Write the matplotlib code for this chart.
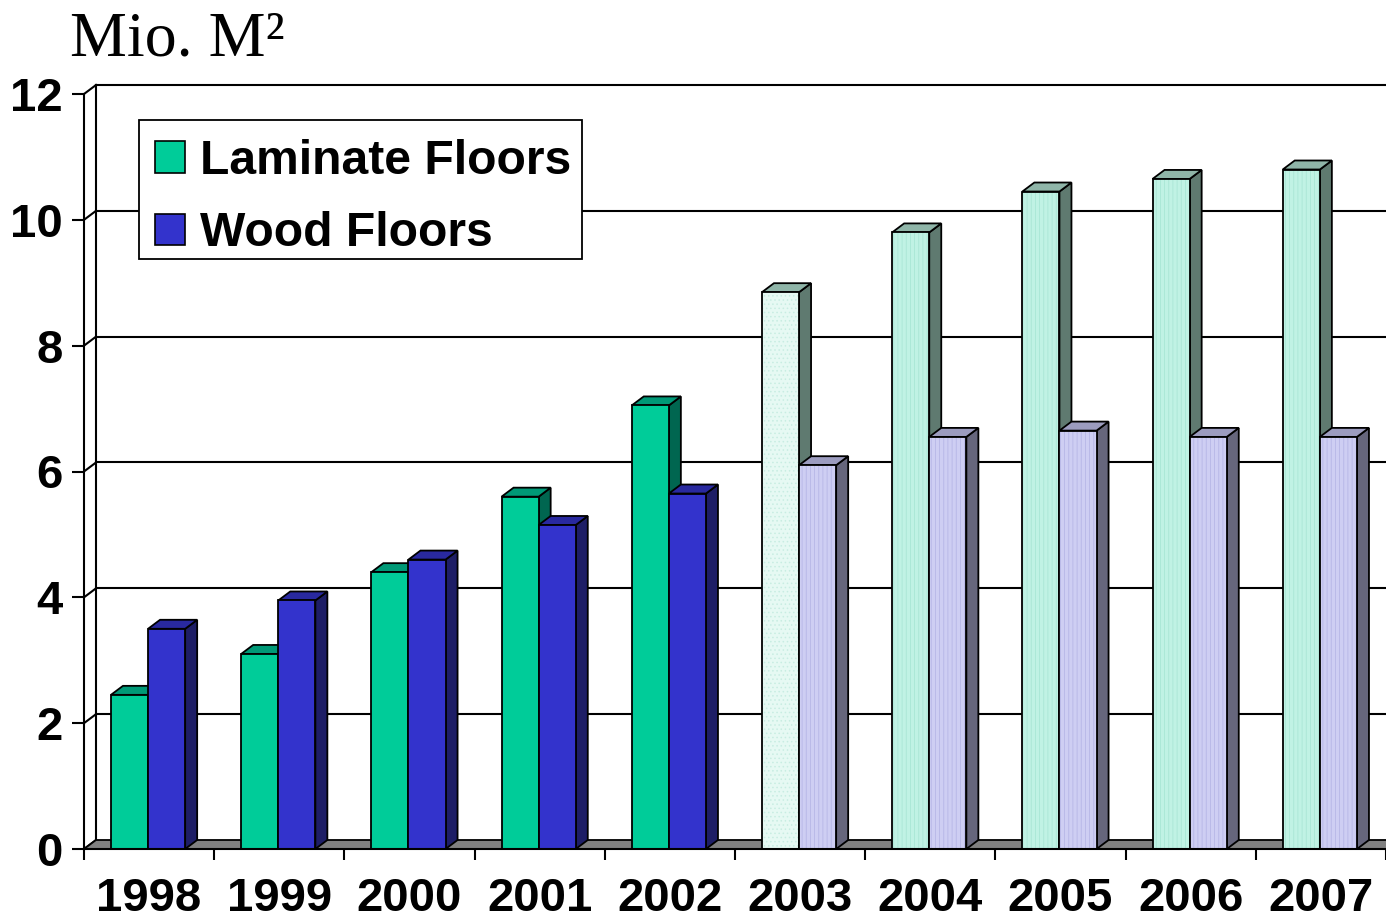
import matplotlib
matplotlib.use("Agg")
import matplotlib.pyplot as plt
from matplotlib.patches import Polygon, Rectangle

# ---- data ----
years = ["1998", "1999", "2000", "2001", "2002", "2003", "2004", "2005", "2006", "2007"]
laminate = [2.45, 3.10, 4.40, 5.60, 7.05, 8.85, 9.80, 10.45, 10.65, 10.80]
wood = [3.50, 3.95, 4.60, 5.15, 5.65, 6.10, 6.55, 6.65, 6.55, 6.55]
series_names = ["Laminate Floors", "Wood Floors"]
y_ticks = [0, 2, 4, 6, 8, 10, 12]
n_actual = 5  # first five years solid, later years forecast (light)

# ---- style ----
lam_solid = dict(front="#00CC99", top="#009977", side="#006650", hatch=None, hc=None)
wood_solid = dict(front="#3333CC", top="#29299F", side="#1E1E66", hatch=None, hc=None)
lam_light_first = dict(front="#E6F9F3", top="#8FB5A8", side="#5F7A70", hatch="....", hc="#C8EDE2")
lam_light = dict(front="#C0F2E4", top="#8FB5A8", side="#5F7A70", hatch="||||", hc="#A9E6D5")
wood_light = dict(front="#CECEF3", top="#9C9CBF", side="#66667C", hatch="||||", hc="#B6B6E6")

plt.rcParams["hatch.linewidth"] = 0.6

W, H = 1386, 923
fig = plt.figure(figsize=(W / 100, H / 100), dpi=100)
ax = fig.add_axes([84 / W, 74 / H, 1 - 84 / W, (849 - 94) / H])
ax.set_xlim(0, len(years))
ax.set_ylim(0, 12)

DX = 12 / 130.2   # depth offset in category units
DY = 9 / 62.9     # depth offset in value units
BW = 0.285        # bar width
OFF = 0.207       # left offset of first bar within category
LW = 1.3

# back wall gridlines + left wall diagonals
for v in y_ticks:
    ax.plot([0, DX], [v, v + DY], color="black", lw=1.5, clip_on=False, zorder=1)
    if v > 0:
        ax.plot([DX, len(years) + DX + 1], [v + DY, v + DY], color="black", lw=1.5,
                clip_on=False, zorder=1)
ax.plot([DX, DX], [DY, 12 + DY], color="black", lw=1.5, clip_on=False, zorder=1)

# floor
floor = Polygon([(0, 0), (len(years) + 1, 0), (len(years) + 1 + DX, DY), (DX, DY)],
                closed=True, facecolor="#808080", edgecolor="black", lw=LW,
                clip_on=False, zorder=2)
ax.add_patch(floor)


def box(x0, v, st, z):
    x1 = x0 + BW
    side = Polygon([(x1, 0), (x1 + DX, DY), (x1 + DX, v + DY), (x1, v)], closed=True,
                   facecolor=st["side"], edgecolor="black", lw=LW, clip_on=False, zorder=z)
    top = Polygon([(x0, v), (x1, v), (x1 + DX, v + DY), (x0 + DX, v + DY)], closed=True,
                  facecolor=st["top"], edgecolor="black", lw=LW, clip_on=False, zorder=z)
    front = Rectangle((x0, 0), BW, v, facecolor=st["front"], edgecolor="none",
                      clip_on=False, zorder=z)
    ax.add_patch(side)
    ax.add_patch(top)
    ax.add_patch(front)
    if st["hatch"]:
        ax.add_patch(Rectangle((x0, 0), BW, v, facecolor="none", edgecolor=st["hc"],
                               hatch=st["hatch"], lw=0, clip_on=False, zorder=z))
    ax.add_patch(Rectangle((x0, 0), BW, v, facecolor="none", edgecolor="black",
                           lw=LW, clip_on=False, zorder=z))


z = 3
for i, (l, w) in enumerate(zip(laminate, wood)):
    if i < n_actual:
        sl, sw = lam_solid, wood_solid
    else:
        sl = lam_light_first if i == n_actual else lam_light
        sw = wood_light
    box(i + OFF, l, sl, z)
    z += 1
    box(i + OFF + BW, w, sw, z)
    z += 1

# axes styling
for s in ["top", "right"]:
    ax.spines[s].set_visible(False)
for s in ["left", "bottom"]:
    ax.spines[s].set_linewidth(1.5)
    ax.spines[s].set_zorder(50)
ax.set_facecolor("none")

ax.set_yticks(y_ticks)
ax.set_yticklabels([str(t) for t in y_ticks])
ax.tick_params(axis="y", length=8.5, width=1.5, pad=7,
               labelsize=34)
ax.set_xticks(range(len(years) + 1))
ax.set_xticklabels([])
ax.set_xticks([i + 0.5 for i in range(len(years))], minor=True)
ax.set_xticklabels(years, minor=True)
ax.tick_params(axis="x", which="major", length=8, width=1.5, direction="out")
ax.tick_params(axis="x", which="minor", length=0, pad=20.5, labelsize=34)
for lab in ax.get_yticklabels() + ax.get_xticklabels(minor=True):
    lab.set_fontfamily("Liberation Sans")
    lab.set_fontweight("bold")

# legend frame (drawn separately so the entries sit like the original)
frame = Rectangle((139 / W, 1 - 259 / H), 443 / W, 139 / H, transform=fig.transFigure,
                  facecolor="white", edgecolor="black", lw=1.3, zorder=99)
fig.add_artist(frame)

handles = [Rectangle((0, 0), 1, 1, facecolor=lam_solid["front"], edgecolor="black", lw=1.2),
           Rectangle((0, 0), 1, 1, facecolor=wood_solid["front"], edgecolor="black", lw=1.2)]
leg = fig.legend(handles, series_names, loc="upper left",
                 bbox_to_anchor=(155 / W, 1 - 139 / H), borderaxespad=0,
                 prop=dict(family="Liberation Sans", weight="bold", size=34.6),
                 frameon=False,
                 handlelength=0.63, handleheight=0.63, handletextpad=0.3,
                 borderpad=0, labelspacing=0.57)
leg.set_zorder(100)

# unit title
fig.text(70 / W, 1 - 55 / H, "Mio. M²", family="Liberation Serif", fontsize=46,
         va="baseline", ha="left")

fig.savefig("out.png", dpi=100)
